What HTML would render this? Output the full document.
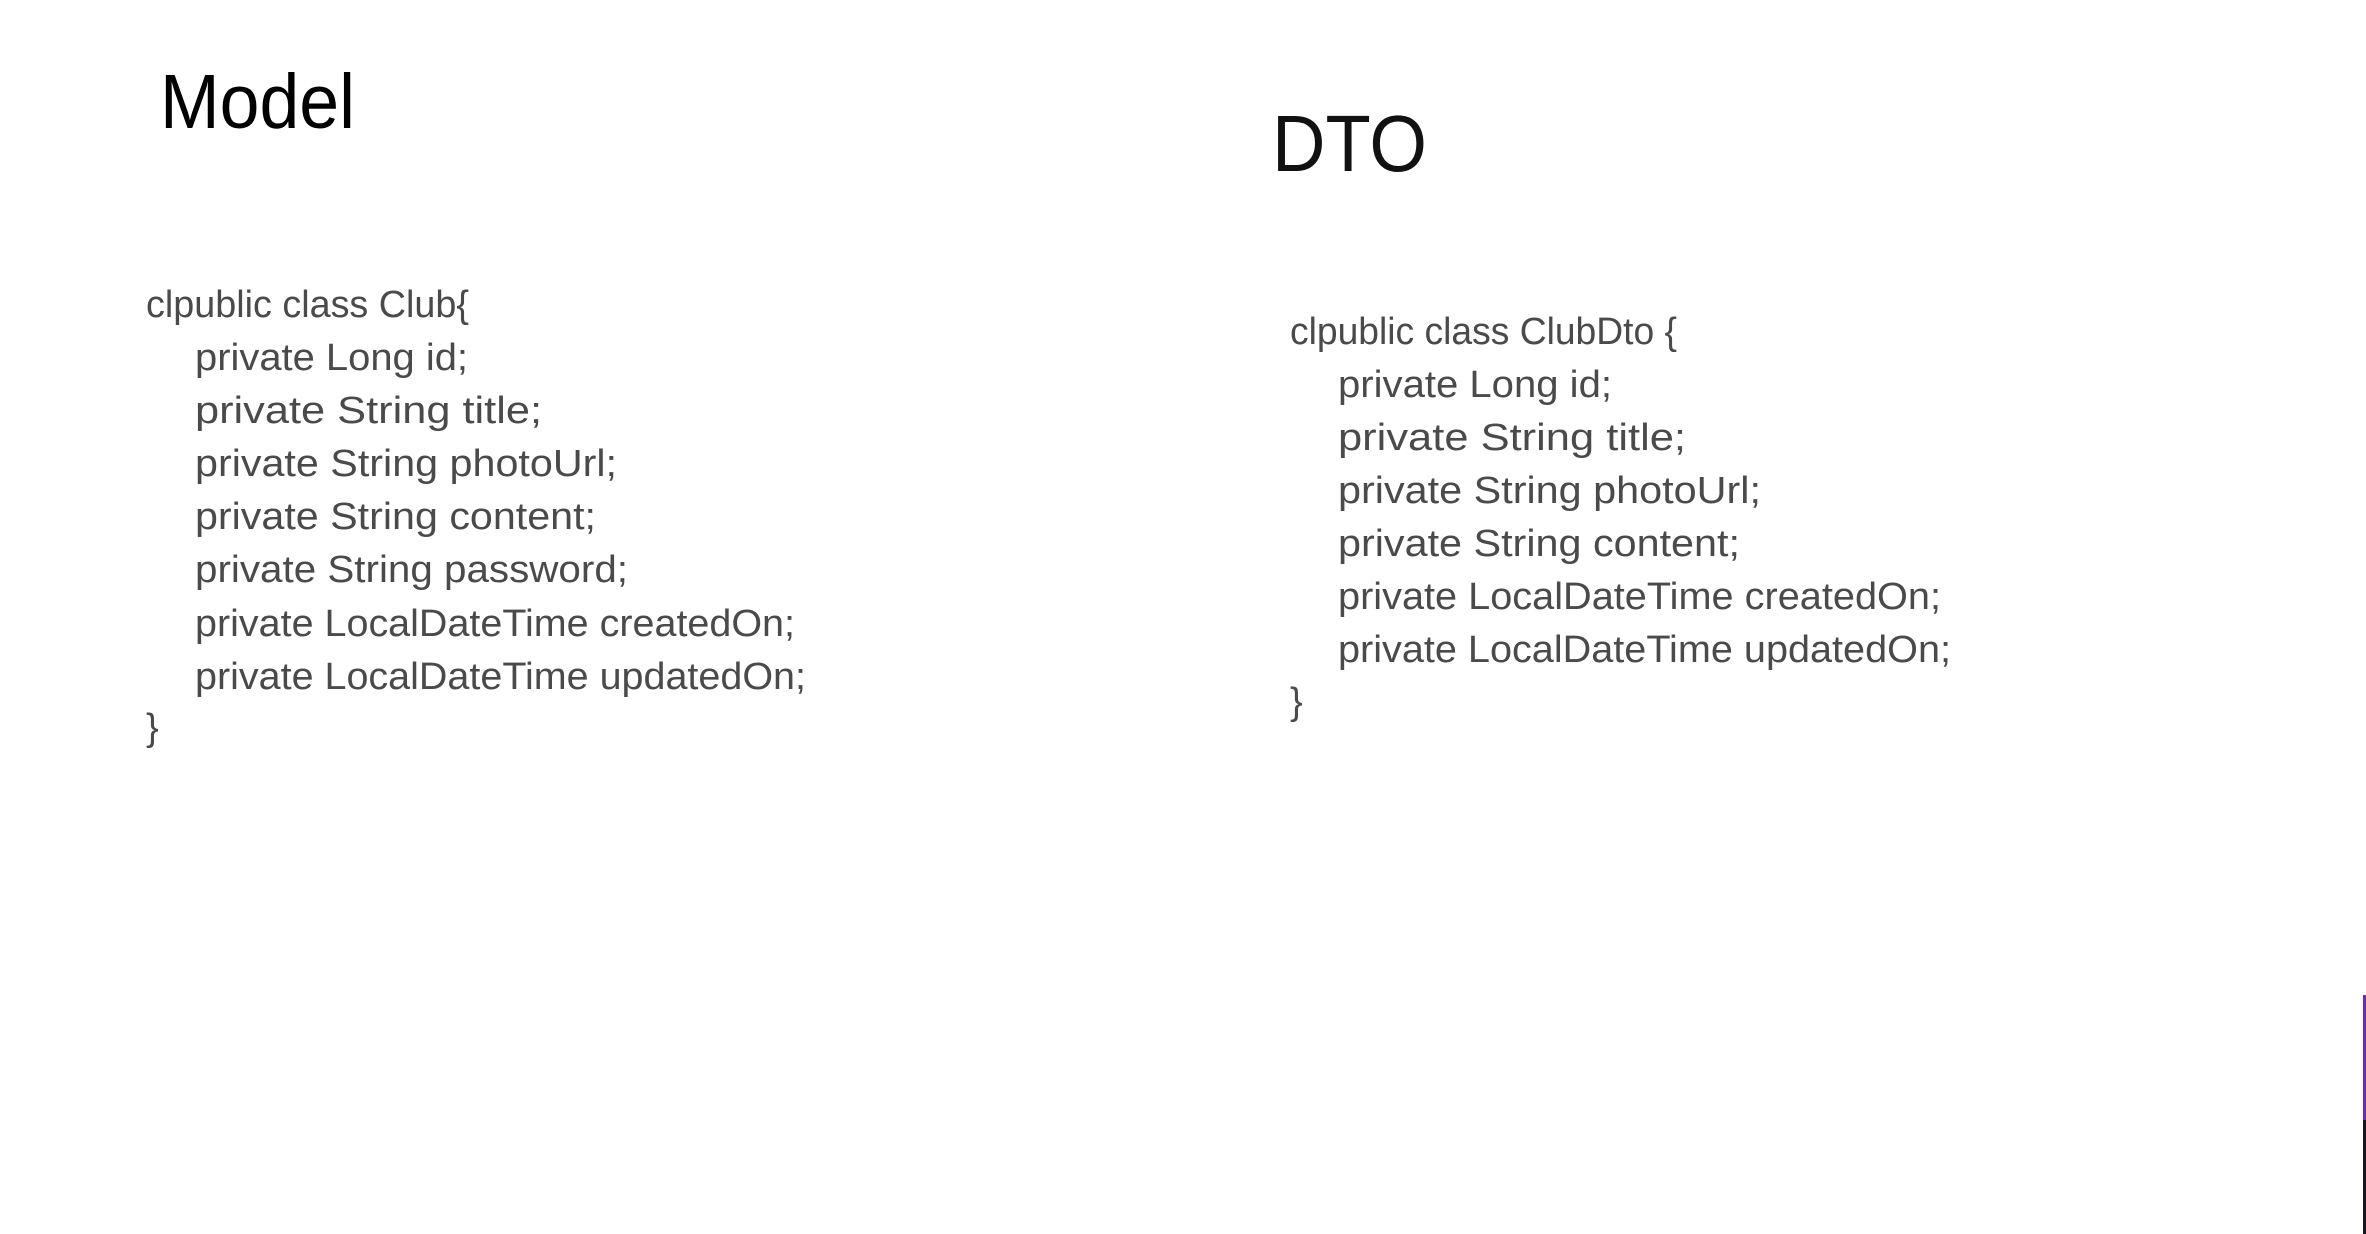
<!DOCTYPE html>
<html><head><meta charset="utf-8"><style>
html,body{margin:0;padding:0;background:#fff;width:2366px;height:1234px;overflow:hidden}
svg{display:block}
.c{font-family:"Liberation Sans",sans-serif;font-size:38px;fill:#4a4a4a}
</style></head><body>
<svg width="2366" height="1234" xmlns="http://www.w3.org/2000/svg">
<rect width="2366" height="1234" fill="#fff"/>
<text x="160" y="128" font-family="Liberation Sans, sans-serif" font-size="77" fill="#000" textLength="195" lengthAdjust="spacingAndGlyphs">Model</text>
<text x="1272" y="171" font-family="Liberation Sans, sans-serif" font-size="80" fill="#111" textLength="155" lengthAdjust="spacingAndGlyphs">DTO</text>
<g class="c">
<text x="146" y="317" textLength="323" lengthAdjust="spacingAndGlyphs">clpublic class Club{</text>
<text x="195" y="370" textLength="273" lengthAdjust="spacingAndGlyphs">private Long id;</text>
<text x="195" y="423" textLength="347" lengthAdjust="spacingAndGlyphs">private String title;</text>
<text x="195" y="476" textLength="422" lengthAdjust="spacingAndGlyphs">private String photoUrl;</text>
<text x="195" y="529" textLength="401" lengthAdjust="spacingAndGlyphs">private String content;</text>
<text x="195" y="582" textLength="433" lengthAdjust="spacingAndGlyphs">private String password;</text>
<text x="195" y="636" textLength="600" lengthAdjust="spacingAndGlyphs">private LocalDateTime createdOn;</text>
<text x="195" y="689" textLength="611" lengthAdjust="spacingAndGlyphs">private LocalDateTime updatedOn;</text>
<text x="146" y="740">}</text>
<text x="1290" y="344" textLength="387" lengthAdjust="spacingAndGlyphs">clpublic class ClubDto {</text>
<text x="1338" y="397" textLength="274" lengthAdjust="spacingAndGlyphs">private Long id;</text>
<text x="1338" y="450" textLength="348" lengthAdjust="spacingAndGlyphs">private String title;</text>
<text x="1338" y="503" textLength="423" lengthAdjust="spacingAndGlyphs">private String photoUrl;</text>
<text x="1338" y="556" textLength="402" lengthAdjust="spacingAndGlyphs">private String content;</text>
<text x="1338" y="609" textLength="603" lengthAdjust="spacingAndGlyphs">private LocalDateTime createdOn;</text>
<text x="1338" y="662" textLength="613" lengthAdjust="spacingAndGlyphs">private LocalDateTime updatedOn;</text>
<text x="1290" y="714">}</text>
</g>
<rect x="2363" y="995" width="3" height="125" fill="#6b2fa8"/>
<rect x="2363" y="1120" width="3" height="114" fill="#1a1420"/>
</svg>
</body></html>
